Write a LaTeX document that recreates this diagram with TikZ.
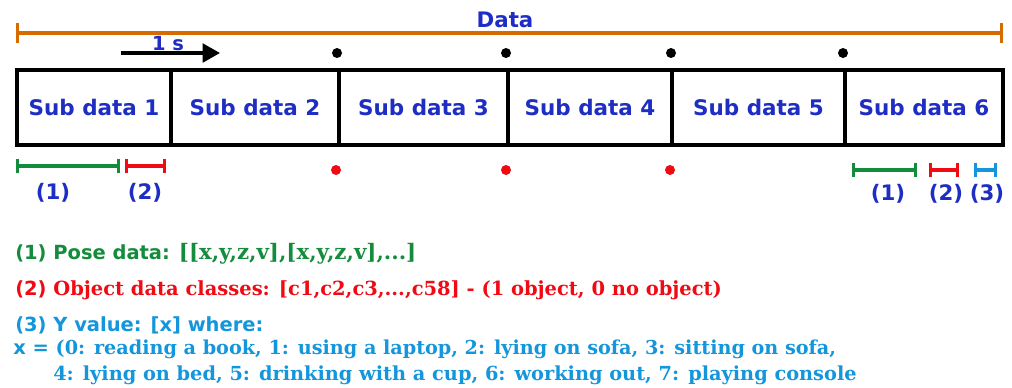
\documentclass[tikz,border=0pt]{standalone}
\usepackage{fontspec}
\setmainfont{DejaVu Sans}
\newfontfamily\slab{DejaVu Serif}
\usetikzlibrary{arrows.meta}
\definecolor{dblue}{RGB}{30,45,195}
\definecolor{dorange}{RGB}{214,108,0}
\definecolor{dgreen}{RGB}{20,140,60}
\definecolor{dred}{RGB}{240,10,20}
\definecolor{lblue}{RGB}{20,150,220}
\tikzset{
  cell/.style={draw=black, line width=3pt, minimum height=56.25pt, inner sep=0pt, anchor=west,
    font=\fontsize{16.1pt}{18pt}\selectfont\bfseries, text=dblue},
  lab/.style={font=\fontsize{16pt}{18pt}\selectfont\bfseries, text=dblue, inner sep=0pt},
  bracket/.style={line width=2.6pt, {Bar[width=11pt,line width=2.6pt]}-{Bar[width=11pt,line width=2.6pt]}},
  txt/.style={anchor=west, inner sep=0pt, font=\fontsize{14.6pt}{18pt}\selectfont\bfseries},
  blackdot/.style={fill=black, circle, inner sep=0pt, minimum size=7.5pt},
  reddot/.style={fill=dred, circle, inner sep=0pt, minimum size=7.5pt}
}
\begin{document}
\begin{tikzpicture}[x=0.75pt,y=-0.75pt]
\useasboundingbox[fill=white] (0,0) rectangle (1012,387);
% Data span
\coordinate (dl) at (16,33);
\coordinate (dr) at (1003,33);
\draw[dorange, line width=2.4pt, {Bar[width=15pt,line width=2.4pt]}-{Bar[width=15pt,line width=2.4pt]}] (dl) -- (dr);
\node[lab, font=\fontsize{16pt}{18pt}\selectfont\bfseries] (data) at (505,20) {Data};
% 1 s arrow
\coordinate (as) at (121,53);
\coordinate (ae) at (220,53);
\draw[line width=2.4pt, -{Triangle[length=13pt,width=14pt]}] (as) -- (ae);
\node[lab, font=\fontsize{14.6pt}{18pt}\selectfont\bfseries] (ones) at (168,43.5) {1 s};
% black dots
\node[blackdot] (b1) at (337,53) {};
\node[blackdot] (b2) at (506,53) {};
\node[blackdot] (b3) at (671,53) {};
\node[blackdot] (b4) at (843,53) {};
% cells
\node[cell, minimum width=115.5pt] (c1) at (15,107.5) {Sub data 1};
\node[cell, minimum width=126pt] (c2) at (169,107.5) {Sub data 2};
\node[cell, minimum width=126.75pt] (c3) at (337,107.5) {Sub data 3};
\node[cell, minimum width=123pt] (c4) at (506,107.5) {Sub data 4};
\node[cell, minimum width=129.75pt] (c5) at (670,107.5) {Sub data 5};
\node[cell, minimum width=118.5pt] (c6) at (843,107.5) {Sub data 6};
% red dots
\node[reddot] (r1) at (336,170) {};
\node[reddot] (r2) at (506,170) {};
\node[reddot] (r3) at (670,170) {};
% left brackets
\coordinate (g1a) at (16,166); \coordinate (g1b) at (120,166);
\coordinate (r1a) at (125,166); \coordinate (r1b) at (166,166);
\draw[dgreen, bracket] (g1a) -- (g1b);
\draw[dred, bracket] (r1a) -- (r1b);
\node[lab] (l1) at (53,193) {(1)};
\node[lab] (l2) at (145,193) {(2)};
% right brackets
\coordinate (g2a) at (852,170); \coordinate (g2b) at (917,170);
\coordinate (r2a) at (929,170); \coordinate (r2b) at (959,170);
\coordinate (b2a) at (974,170); \coordinate (b2b) at (997,170);
\draw[dgreen, bracket] (g2a) -- (g2b);
\draw[dred, bracket] (r2a) -- (r2b);
\draw[lblue, bracket] (b2a) -- (b2b);
\node[lab] (m1) at (888,194) {(1)};
\node[lab] (m2) at (946,194) {(2)};
\node[lab] (m3) at (987,194) {(3)};
% legend text
\node[txt, text=dgreen] (t1) at (15,254) {(1) Pose data: {\slab\fontsize{16pt}{18pt}\selectfont [[x,y,z,v],[x,y,z,v],...]}};
\node[txt, text=dred] (t2) at (15,290) {(2) {\slab Object data classes: [c1,c2,c3,...,c58] - (1 object, 0 no object)}};
\node[txt, text=lblue] (t3) at (15,325) {(3) Y value: [x] where:};
\node[txt, text=lblue] (t4) at (13,349) {x = {\slab\fontsize{14.4pt}{18pt}\selectfont (0: reading a book, 1: using a laptop, 2: lying on sofa, 3: sitting on sofa,}};
\node[txt, text=lblue] (t5) at (53,375) {{\slab\fontsize{14.5pt}{18pt}\selectfont 4: lying on bed, 5: drinking with a cup, 6: working out, 7: playing console}};
\end{tikzpicture}
\end{document}
